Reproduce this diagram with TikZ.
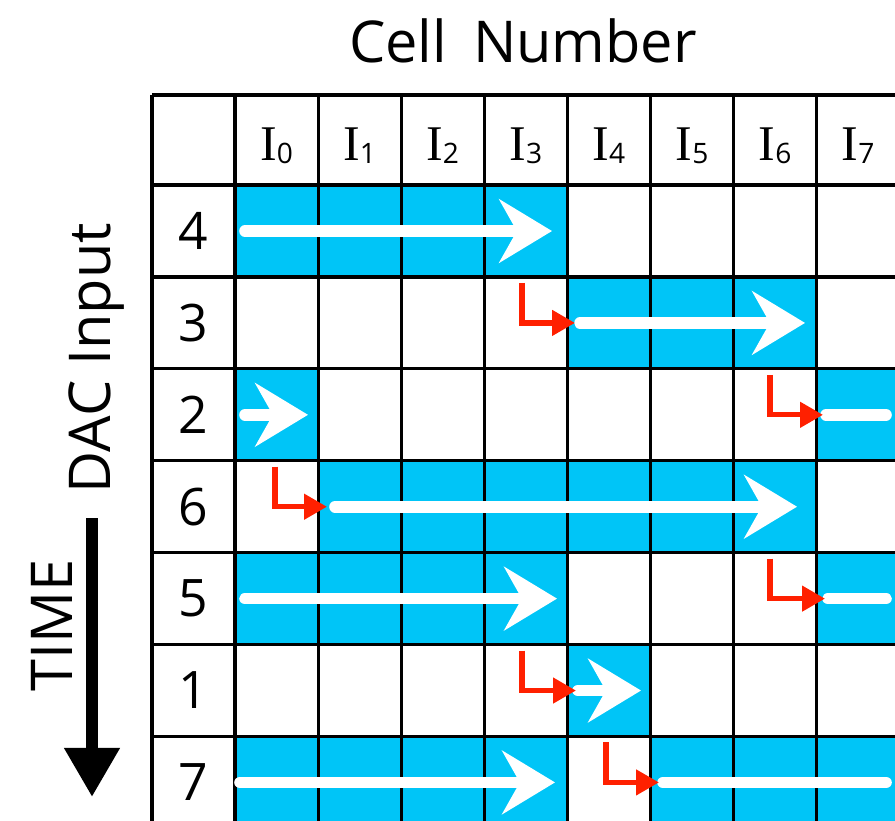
\documentclass[tikz,border=0pt]{standalone}
\usepackage{fontspec}
\setmainfont{Open Sans}
\newfontfamily\serifI{Liberation Serif}
\usetikzlibrary{arrows.meta}
\definecolor{cellblue}{HTML}{00C5F7}
\definecolor{jump}{HTML}{FF2000}
\newcommand{\cellI}[1]{{\serifI I}\raisebox{-0.9pt}{\fontsize{8}{8}\selectfont #1}}

\begin{document}
\begin{tikzpicture}[x=0.01cm,y=-0.01cm,
  gridline/.style={line width=0.9pt},
  chalk/.style={white,line width=3.3pt,line cap=round},
  chalkhead/.style={-{Stealth[length=15pt,width=18pt,inset=5pt]}},
  wrap/.style={jump,line width=1.5pt,-{Triangle[length=6.5pt,width=7pt]}}]
\useasboundingbox (0,0) rectangle (895,820);
\clip (0,0) rectangle (895,820);
% titles
\node[anchor=base,font=\fontsize{16.4}{20}\selectfont] (title) at (523,62) {Cell\hspace{0.45em}Number};
\node[anchor=base,rotate=90,font=\fontsize{16.4}{20}\selectfont] (dac) at (110,358) {DAC Input};
\node[anchor=base,rotate=90,font=\fontsize{16.4}{20}\selectfont] (time) at (72,625) {TIME};
\coordinate (tup) at (92,518);
\coordinate (tdown) at (92,797);
\draw[line width=3.4pt,-{Triangle[length=14pt,width=15pt]}] (tup) -- (tdown);
% filled cells
\foreach \r/\cols in {0/{0,1,2,3},1/{4,5,6},2/{0,7},3/{1,2,3,4,5,6},4/{0,1,2,3,7},5/{4},6/{0,1,2,3,5,6,7}}
  \foreach \c in \cols
    \fill[cellblue] (235+\c*83.1,185+\r*91.9) rectangle ++(83.1,91.9);
% grid
\draw[gridline] (152,95) -- (152,830);
\foreach \i in {0,...,8} \draw[gridline] (235+\i*83.1,95) -- (235+\i*83.1,830);
\draw[gridline] (152,95) -- (900,95);
\foreach \j in {0,...,7} \draw[gridline] (152,185+\j*91.9) -- (900,185+\j*91.9);
% header and row labels
\foreach \c in {0,...,7}
  \node[anchor=base,font=\fontsize{14.2}{16}\selectfont] (h\c) at (276.5+\c*83.1,160) {\cellI{\c}};
\foreach \v [count=\r from 0] in {4,3,2,6,5,1,7}
  \node[font=\fontsize{14.7}{16}\selectfont] (r\r) at (193.5,231+\r*91.9) {\v};
% white arrows
\foreach \r/\a/\b in {0/245/552,1/580/805,2/245/308,3/335/797,4/245/557,5/578/641,6/240/555}
  \draw[chalk,chalkhead] (\a,231+\r*91.9) -- (\b,231+\r*91.9);
\foreach \r/\a in {2/826,4/828,6/663}
  \draw[chalk] (\a,231+\r*91.9) -- (886,231+\r*91.9);
% red wrap arrows
\foreach \r/\x/\e in {1/522/575,2/770/823,3/275/327,4/770/825,5/522/576,6/606/659}
  \draw[wrap] (\x,191+\r*91.9) |- (\e,231+\r*91.9);
\end{tikzpicture}
\end{document}
